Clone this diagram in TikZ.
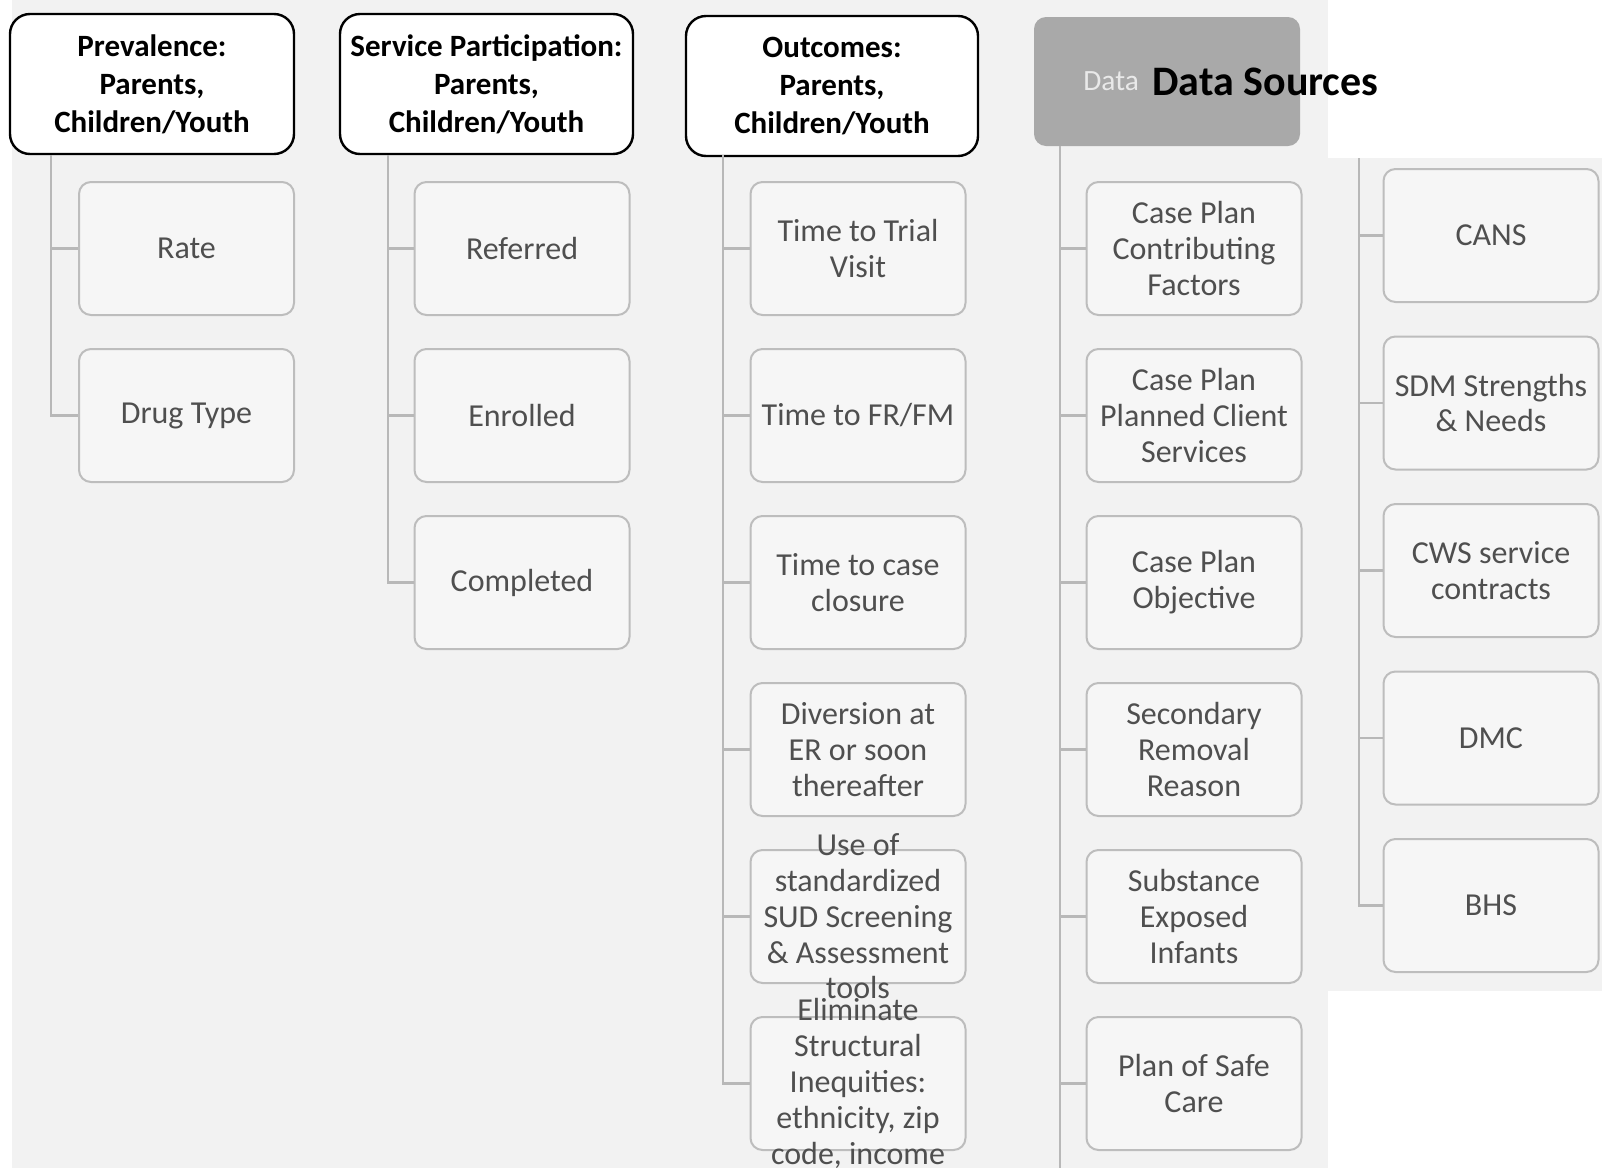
\documentclass[tikz,border=0pt]{standalone}
\usepackage{fontspec}
\setmainfont{Carlito}
\definecolor{scanbg}{HTML}{F2F2F2}
\definecolor{boxfill}{HTML}{F6F6F6}
\definecolor{boxline}{HTML}{BDBDBD}
\definecolor{connline}{HTML}{B8B8B8}
\definecolor{txtgray}{HTML}{4F4F4F}
\definecolor{dsfill}{HTML}{A9A9A9}
\tikzset{
  headbox/.style={draw=black, line width=1.2pt, fill=white, rounded corners=10pt,
    minimum height=70pt, align=center, inner sep=0pt,
    font=\fontsize{15.5pt}{19pt}\selectfont\bfseries},
  cbox/.style={draw=boxline, line width=1pt, fill=boxfill, rounded corners=6pt,
    minimum width=107.5pt, minimum height=66.5pt, inner sep=0pt},
  ctext/.style={text=txtgray, align=center, inner sep=0pt,
    font=\fontsize{16pt}{17.9pt}\selectfont},
  conn/.style={draw=connline, line width=1.2pt},
}
\newcommand\childbox[4]{%
  \node[cbox] (#1) at (#2,#3) {};
  \node[ctext] at (#1.center) {#4};}
\begin{document}
\begin{tikzpicture}[x=0.5pt, y=-0.5pt]
\useasboundingbox (0,0) rectangle (1602,1168);
% scanned page background
\fill[scanbg] (12,0) rectangle (1328,1168);
\fill[scanbg] (1328,158) rectangle (1602,991);

% column headers
\node[headbox, minimum width=142pt] (h1) at (152,84) {Prevalence:\\Parents,\\Children/Youth};
\node[headbox, minimum width=146.5pt] (h2) at (486.5,84) {Service Participation:\\Parents,\\Children/Youth};
\node[headbox, minimum width=146pt] (h3) at (832,86) {Outcomes:\\Parents,\\Children/Youth};
\node[fill=dsfill, rounded corners=6pt, minimum width=133pt, minimum height=64.5pt] (h4) at (1167,81.5) {};
\node[text=white, text opacity=0.75, inner sep=0pt, anchor=west,
  font=\fontsize{14.7pt}{17pt}\selectfont] (dsfaint) at (1083,81) {Data};
\node[font=\fontsize{21pt}{24pt}\selectfont\bfseries, inner sep=0pt, anchor=west] (dslabel) at (1152,82) {Data Sources};

% trunk tops
\coordinate (v1) at (51,155);
\coordinate (v2) at (388,155);
\coordinate (v3) at (723,155);
\coordinate (v4) at (1060,146);
\coordinate (v5) at (1359,158);
\coordinate (v4end) at (1060,1168);

% prevalence
\childbox{rate}{186.5}{248.5}{Rate}
\childbox{drug}{186.5}{415.5}{Drug Type}
% service participation
\childbox{refer}{522}{248.5}{Referred}
\childbox{enrol}{522}{415.5}{Enrolled}
\childbox{compl}{522}{582.5}{Completed}
% outcomes
\childbox{trial}{858}{248.5}{Time to Trial\\Visit}
\childbox{frfm}{858}{415.5}{Time to FR/FM}
\childbox{closure}{858}{582.5}{Time to case\\closure}
\childbox{divert}{858}{749.5}{Diversion at\\ER or soon\\thereafter}
\childbox{sud}{858}{916.5}{Use of\\standardized\\SUD Screening\\\& Assessment\\tools}
\childbox{ineq}{858}{1083.5}{Eliminate\\Structural\\Inequities:\\ethnicity, zip\\code, income}
% data sources, case plan column
\childbox{contrib}{1194}{248.5}{Case Plan\\Contributing\\Factors}
\childbox{planned}{1194}{415.5}{Case Plan\\Planned Client\\Services}
\childbox{objective}{1194}{582.5}{Case Plan\\Objective}
\childbox{secondary}{1194}{749.5}{Secondary\\Removal\\Reason}
\childbox{infants}{1194}{916.5}{Substance\\Exposed\\Infants}
\childbox{safecare}{1194}{1083.5}{Plan of Safe\\Care}
% data sources, assessment column
\childbox{cans}{1491}{235.5}{CANS}
\childbox{sdm}{1491}{403}{SDM Strengths\\\& Needs}
\childbox{cws}{1491}{570.5}{CWS service\\contracts}
\childbox{dmc}{1491}{738}{DMC}
\childbox{bhs}{1491}{905.5}{BHS}

% connectors
\draw[conn] (v1) |- (rate.west);
\draw[conn] (v1) |- (drug.west);
\draw[conn] (v2) |- (refer.west);
\draw[conn] (v2) |- (enrol.west);
\draw[conn] (v2) |- (compl.west);
\foreach \n in {trial,frfm,closure,divert,sud,ineq} \draw[conn] (v3) |- (\n.west);
\draw[conn] (v4) -- (v4end);
\foreach \n in {contrib,planned,objective,secondary,infants,safecare} \draw[conn] (v4) |- (\n.west);
\foreach \n in {cans,sdm,cws,dmc,bhs} \draw[conn] (v5) |- (\n.west);
\end{tikzpicture}
\end{document}
